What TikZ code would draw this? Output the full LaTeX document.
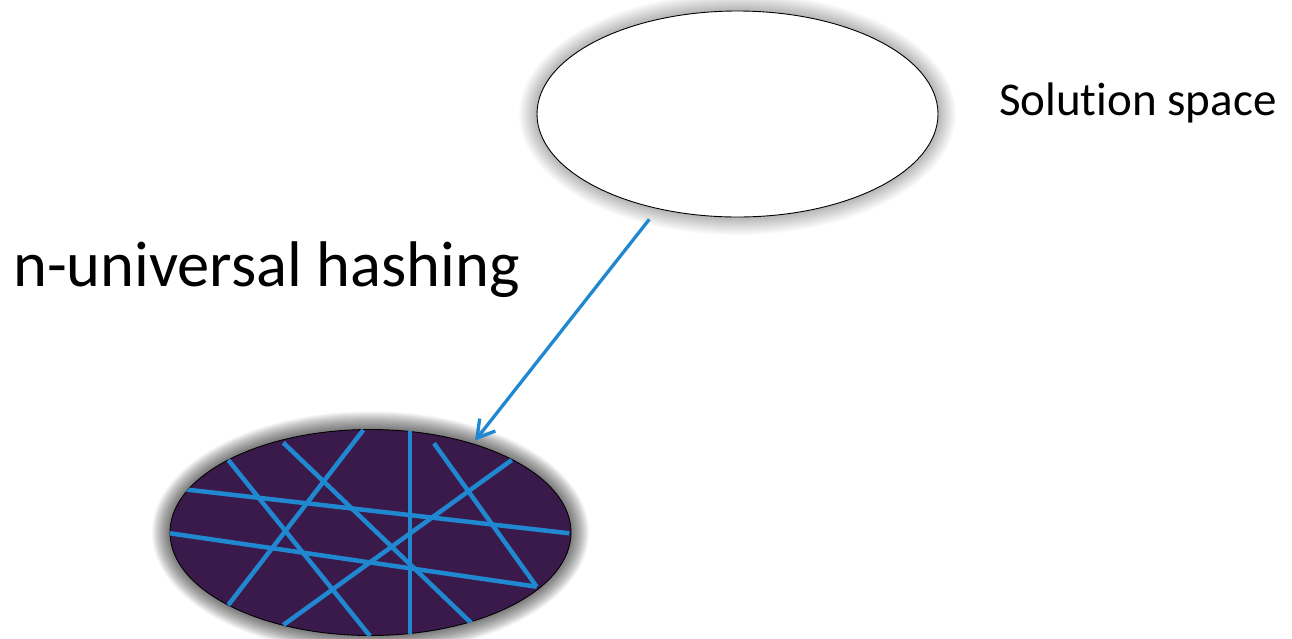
\documentclass[tikz,border=0pt]{standalone}
\usepackage{fontspec}
\setmainfont{Carlito}[Ligatures=NoCommon]
\usetikzlibrary{shapes.geometric,arrows.meta}
\definecolor{hashblue}{RGB}{32,136,208}
\definecolor{deeppurple}{RGB}{58,26,74}
\tikzset{
  space/.style={ellipse,draw=black,line width=0.9pt,minimum width=401pt,minimum height=206pt,inner sep=0pt},
  glowlayer/.style={fill=black},
  hashline/.style={hashblue,line width=4.5pt},
  maparrow/.style={hashblue,line width=3.3pt,-{Straight Barb[length=17pt,width=20pt,line width=3.3pt]}},
  label/.style={anchor=base west,inner sep=0pt,text=black}
}
\newcommand{\glowaround}[2]{%
  \foreach \i in {18,...,1}{%
    \fill[glowlayer,fill opacity=#2] (#1) ellipse [x radius=200.5+\i, y radius=103.2+\i];
  }%
}
\begin{document}
\begin{tikzpicture}[x=1pt,y=-1pt]
\useasboundingbox[fill=white] (0,0) rectangle (1292,638);
\coordinate (tc) at (737.5,114);
\coordinate (bc) at (370.5,532.5);
\glowaround{tc}{0.014}
\glowaround{bc}{0.035}
\node[space,fill=white] (top) at (tc) {};
\node[space,fill=deeppurple] (bot) at (bc) {};
\node[label,font=\fontsize{47}{50}\selectfont] (sol) at (999,115) {Solution space};
\node[label,font=\fontsize{64.5}{68}\selectfont] (hash) at (13,286.7) {n-universal hashing};
\begin{scope}
\clip (bc) ellipse [x radius=200.5, y radius=103.5];
\draw[hashline] (181.7,489) -- (569.3,533.3);
\draw[hashline] (170,533.3) -- (536.7,586.7);
\draw[hashline] (228.3,460) -- (370,636);
\draw[hashline] (283.3,442.7) -- (473.3,625);
\draw[hashline] (363.3,430) -- (228.3,605);
\draw[hashline] (410,430) -- (410,636);
\draw[hashline] (434,443.3) -- (536.7,586.7);
\draw[hashline] (511.7,460) -- (283.3,625);
\end{scope}
\coordinate (a0) at (649.3,219.3);
\coordinate (a1) at (475,440.7);
\draw[maparrow] (a0) -- (a1);
\end{tikzpicture}
\end{document}
